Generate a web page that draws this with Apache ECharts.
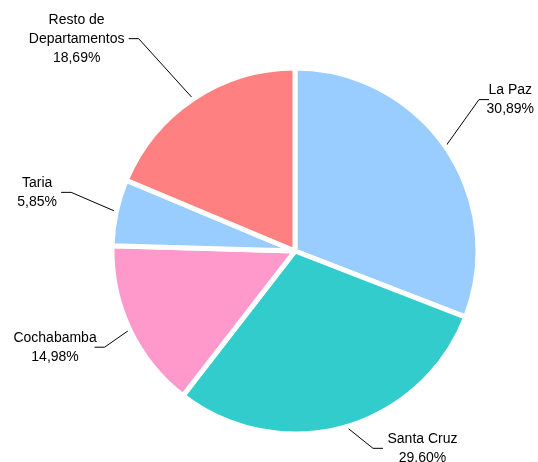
<!DOCTYPE html>
<html>
<head>
<meta charset="utf-8">
<script src="https://cdn.jsdelivr.net/npm/echarts@6/dist/echarts.min.js"></script>
<style>
  html, body { margin: 0; padding: 0; background: #fff; }
  #chart { width: 538px; height: 462px; }
</style>
</head>
<body>
<div id="chart"></div>
<script>
const names = ['La Paz', 'Santa Cruz', 'Cochabamba', 'Taria', 'Resto de\nDepartamentos']
const percents = [30.89, 29.60, 14.98, 5.85, 18.69]
const colors = ['#99ccff', '#33cccc', '#ff99cc', '#99ccff', '#ff8080']
// elbow of each leader line, relative to where it leaves the slice (tuned by eye)
const elbows = [[33, -48], [29, 21], [-25, 18], [-45, -20], [-55, -60]]
const tail = 10

const FONT = '14px "Liberation Sans"'
const ctx = document.createElement('canvas').getContext('2d')
ctx.font = FONT
const fmt = v => v.toFixed(2).replace('.', ',') + '%'
const lines = i => names[i].split('\n').concat(fmt(percents[i]))
const blockWidth = i => Math.ceil(Math.max(...lines(i).map(s => ctx.measureText(s).width)))

const chart = echarts.init(document.getElementById('chart'))
chart.setOption({
  animation: false,
  series: [{
    type: 'pie',
    center: [295, 251],
    radius: 183,
    startAngle: 90,
    clockwise: true,
    emphasis: { disabled: true },
    itemStyle: { borderColor: '#fff', borderWidth: 5 },
    label: {
      color: '#000',
      overflow: 'none',
      formatter: p => lines(p.dataIndex).map(s => '{t|' + s + '}').join('\n')
    },
    labelLine: {
      lineStyle: { color: '#000', width: 1 }
    },
    labelLayout: p => {
      const pts = p.labelLinePoints
      // pull the start a little inward so the line touches the visible slice edge
      const dx = pts[1][0] - pts[0][0], dy = pts[1][1] - pts[0][1]
      const d = Math.hypot(dx, dy) || 1
      const start = [pts[0][0] - dx / d * 3, pts[0][1] - dy / d * 3]
      const e = elbows[p.dataIndex]
      const elbow = [pts[0][0] + e[0], pts[0][1] + e[1]]
      const right = e[0] > 0
      const end = [elbow[0] + (right ? tail : -tail), elbow[1]]
      return {
        x: end[0] + (right ? 4 : -4),
        y: end[1],
        align: right ? 'left' : 'right',
        verticalAlign: 'middle',
        labelLinePoints: [start, elbow, end]
      }
    },
    data: names.map((n, i) => ({
      name: n,
      value: percents[i],
      itemStyle: { color: colors[i] },
      label: {
        rich: {
          t: {
            width: blockWidth(i),
            align: 'center',
            fontFamily: 'Liberation Sans',
            fontSize: 14,
            lineHeight: 19,
            color: '#000'
          }
        }
      }
    }))
  }]
})
</script>
</body>
</html>
